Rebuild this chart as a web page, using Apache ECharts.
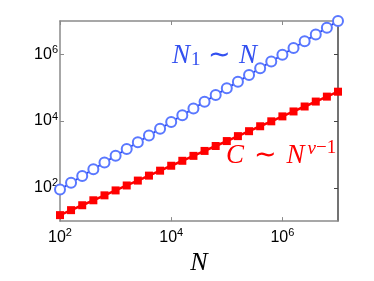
<!DOCTYPE html>
<html>
<head>
<meta charset="utf-8">
<script src="https://cdn.jsdelivr.net/npm/echarts@6/dist/echarts.min.js"></script>
<style>
html,body{margin:0;padding:0;background:#fff;}
#c{width:374px;height:281px;}
</style>
</head>
<body>
<div id="c"></div>
<script>
// Data
const N = [100, 158, 251, 398, 631, 1000, 1585, 2512, 3981, 6310, 10000, 15850, 25120, 39810, 63100, 100000, 158500, 251200, 398100, 631000, 1000000, 1585000, 2512000, 3981000, 6310000, 10000000];
const N1 = [89, 142, 226, 360, 573, 912, 1452, 2312, 3681, 5861, 9333, 14860, 23660, 37670, 59980, 95500, 152000, 242000, 385500, 613800, 977000, 1556000, 2477000, 3945000, 6281000, 10000000];
const C = [15.1, 21.3, 29.9, 42.1, 59.2, 83.2, 117, 164, 231, 325, 457, 643, 904, 1271, 1786, 2512, 3532, 4966, 6982, 9817, 13800, 19400, 27300, 38400, 54000, 75900];
const xTicks = [100, 10000, 1000000];
const yTicks = [100, 10000, 1000000];

const chart = echarts.init(document.getElementById('c'), null, {renderer: 'canvas'});

function pow10Label(v) {
  const l = Math.log10(v);
  const e = Math.round(l);
  if (Math.abs(l - e) > 1e-6) return '';
  return '{b|10}{s|' + e + '}';
}
const rich = {
  b: {fontSize: 16, fontFamily: 'Liberation Sans', color: '#000'},
  s: {fontSize: 11, fontFamily: 'Liberation Sans', color: '#000', verticalAlign: 'bottom', padding: [0, 0, 9, 0]}
};

const grey = '#8a8a8a';
const dark = '#444';

chart.setOption({
  animation: false,
  backgroundColor: '#fff',
  grid: {left: 60, right: 36, top: 21, bottom: 59, containLabel: false},
  xAxis: [{
    type: 'log', logBase: 10, min: 100, max: 1e7,
    position: 'bottom',
    name: 'N', nameLocation: 'middle', nameGap: 27,
    nameTextStyle: {fontFamily: 'Liberation Serif', fontStyle: 'italic', fontSize: 26, color: '#000'},
    axisLine: {show: true, lineStyle: {color: grey, width: 1.5}},
    axisTick: {show: true, inside: true, length: 4, lineStyle: {color: grey}, customValues: xTicks},
    minorTick: {show: false},
    splitLine: {show: false},
    axisLabel: {formatter: pow10Label, rich: rich, margin: 6, customValues: xTicks}
  }, {
    type: 'log', logBase: 10, min: 100, max: 1e7,
    position: 'top',
    axisLine: {show: true, lineStyle: {color: grey, width: 1.5}},
    axisTick: {show: true, inside: true, length: 4, lineStyle: {color: grey}, customValues: xTicks},
    splitLine: {show: false},
    axisLabel: {show: false}
  }],
  yAxis: [{
    type: 'log', logBase: 10, min: 10, max: 1e7,
    position: 'left',
    axisLine: {show: true, lineStyle: {color: grey, width: 1.5}},
    axisTick: {show: true, inside: true, length: 4, lineStyle: {color: grey}, customValues: yTicks},
    splitLine: {show: false},
    axisLabel: {formatter: pow10Label, rich: rich, margin: 2, customValues: yTicks}
  }, {
    type: 'log', logBase: 10, min: 10, max: 1e7,
    position: 'right',
    axisLine: {show: true, lineStyle: {color: dark, width: 1.5}},
    axisTick: {show: true, inside: true, length: 4, lineStyle: {color: dark}, customValues: yTicks},
    splitLine: {show: false},
    axisLabel: {show: false}
  }],
  series: [{
    type: 'line', name: 'N1', xAxisIndex: 0, yAxisIndex: 0,
    data: N.map((x, i) => [x, N1[i]]),
    symbol: 'emptyCircle', symbolSize: 10,
    itemStyle: {color: '#5a78ff', borderWidth: 1},
    lineStyle: {color: '#2240ee', width: 1.8},
    z: 3
  }, {
    type: 'line', name: 'C', xAxisIndex: 0, yAxisIndex: 0,
    data: N.map((x, i) => [x, C[i]]),
    symbol: 'rect', symbolSize: 8,
    itemStyle: {color: '#ff0000'},
    lineStyle: {color: '#ff0000', width: 2.5},
    z: 4
  }],
  graphic: [{
    type: 'text', left: 172, top: 42,
    style: {
      text: '{i|N}{sub|1}{r| ∼ }{i|N}',
      rich: {
        i: {fontFamily: 'Liberation Serif', fontStyle: 'italic', fontSize: 27, fill: '#3350f0'},
        sub: {fontFamily: 'Liberation Serif', fontSize: 19, fill: '#3350f0', verticalAlign: 'top', padding: [9, 0, 0, 1]},
        r: {fontFamily: 'Liberation Serif', fontSize: 27, fill: '#3350f0', padding: [0, 1, 0, 1]}
      }
    }
  }, {
    type: 'text', left: 226, top: 139,
    style: {
      text: '{i|C}{r| ∼ }{i|N}{sup|ν}{sr|−1}',
      rich: {
        i: {fontFamily: 'Liberation Serif', fontStyle: 'italic', fontSize: 27, fill: '#ff0000'},
        sup: {fontFamily: 'Liberation Serif', fontStyle: 'italic', fontSize: 19, fill: '#ff0000', verticalAlign: 'bottom', padding: [0, 0, 15, 3]},
        sr: {fontFamily: 'Liberation Serif', fontSize: 19, fill: '#ff0000', verticalAlign: 'bottom', padding: [0, 0, 15, 0]},
        r: {fontFamily: 'Liberation Serif', fontSize: 27, fill: '#ff0000', padding: [0, 3, 0, 3]}
      }
    }
  }]
});
</script>
</body>
</html>
